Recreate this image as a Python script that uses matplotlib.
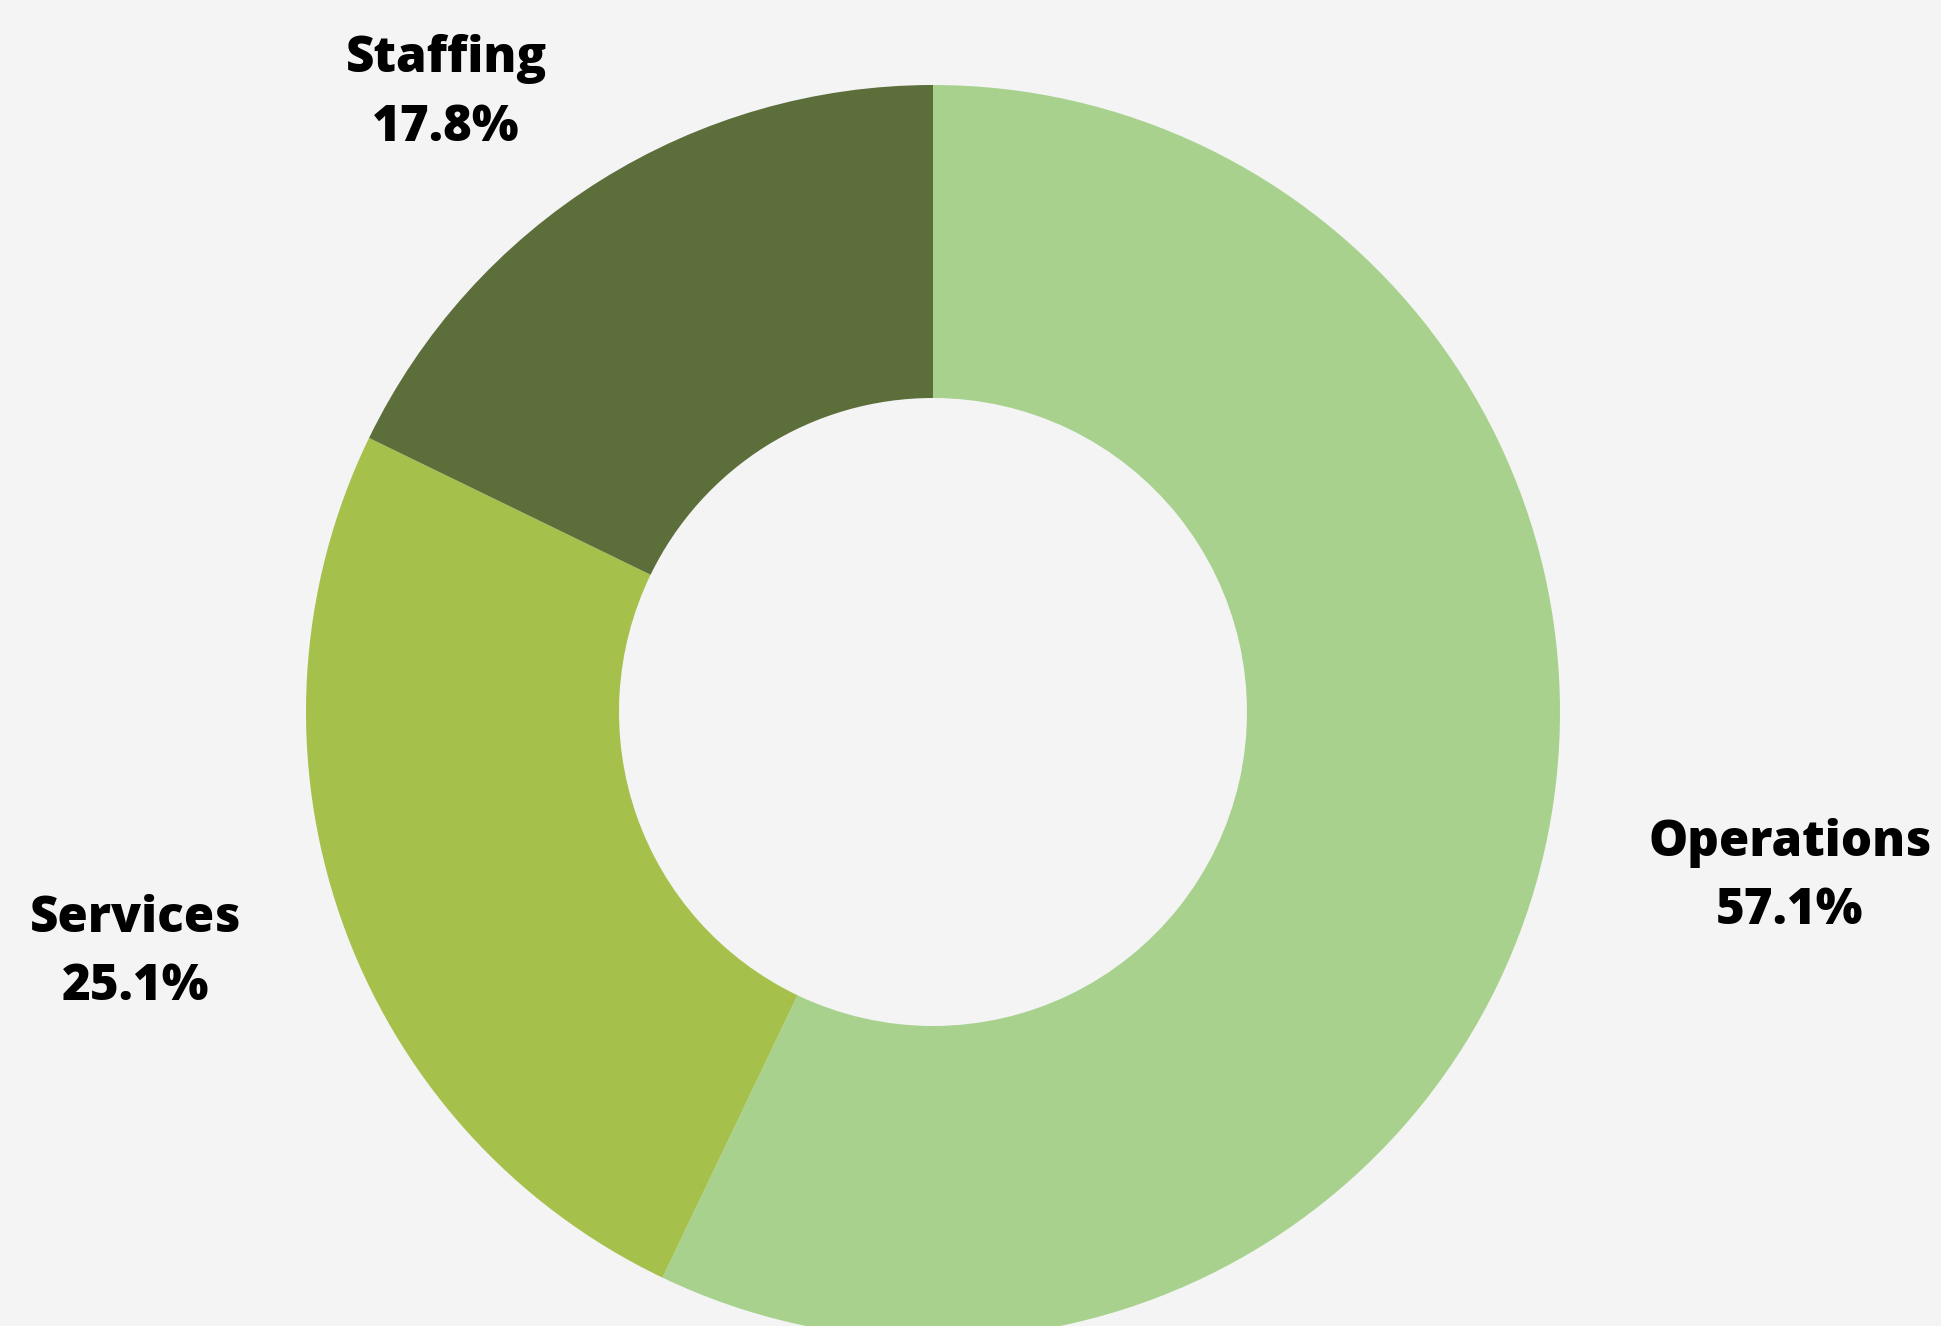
import matplotlib.pyplot as plt

# data
labels = ["Operations", "Services", "Staffing"]
shares = [57.1, 25.1, 17.8]
colors = ["#a8d18d", "#a5c14c", "#5c6e3a"]

# label anchor points (pixel space, y from top)
label_pos = {"Operations": (1790, 877), "Services": (136, 953), "Staffing": (446, 93)}

W, H = 1941, 1326
fig = plt.figure(figsize=(W / 100, H / 100), dpi=100)
fig.patch.set_facecolor("#f4f4f4")
ax = fig.add_axes([0, 0, 1, 1])

# donut, clockwise from 12 o'clock
ax.pie(shares, colors=colors, startangle=90, counterclock=False,
       center=(933, H - 712), radius=627, frame=True,
       wedgeprops=dict(width=313, linewidth=0))
ax.set_xlim(0, W)
ax.set_ylim(0, H)
ax.set_aspect("equal")
ax.axis("off")

for name, val in zip(labels, shares):
    x, y = label_pos[name]
    ax.text(x, H - y, f"{name}\n{val:.1f}%", ha="center", va="center",
            fontsize=35.5, fontweight="heavy", family=["Open Sans", "DejaVu Sans"],
            linespacing=1.5, color="black")

plt.savefig("out.png", dpi=100, facecolor=fig.get_facecolor())
